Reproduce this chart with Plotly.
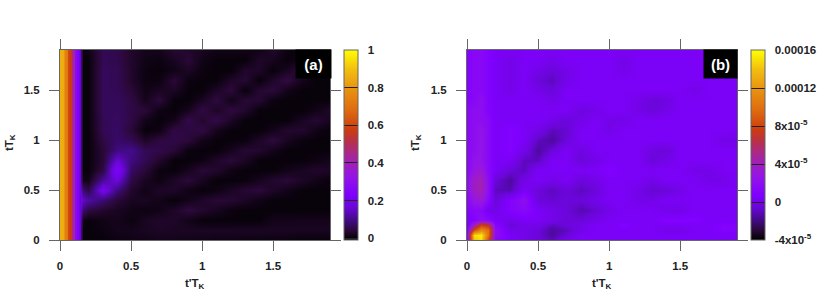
import plotly.graph_objects as go

W, H = 830, 291

y_a = [0, .1, .2, .3, .4, .5, .6, .7, .8, .9, 1.0, 1.1, 1.2, 1.3, 1.4, 1.5, 1.6, 1.7, 1.8, 1.9]
x_a = [0, .021, .035, .049, .056, .077, .085, .099, .106, .127, .141, .148, .162, .2, .3, .4, .5, .6, .7, .8, .9, 1.0, 1.1, 1.2, 1.3, 1.4, 1.5, 1.6, 1.7, 1.8, 1.9]
# one list per x column, each running from y = 0 to y = 1.9
columns_a = [
 [.86]*20,
 [.85]*20,
 [.74]*20,
 [.72]*20,
 [.60]*20,
 [.56]*20,
 [.45]*20,
 [.42]*20,
 [.28]*20,
 [.23]*20,
 [.15]*20,
 [.08,.08,.10,.14,.18,.14,.09,.08,.08,.08,.08,.08,.08,.08,.08,.08,.08,.08,.08,.08],
 [0,0,.01,.08,.15,.08,.01,0,0,0,0,0,0,0,0,0,0,0,0,0],
 [0,0,0,.05,.12,.05,.01,0,0,0,0,0,0,0,0,0,0,0,0,.01],
 [0,.005,.01,.03,.08,.20,.11,.05,.04,.04,.05,.06,.06,.065,.065,.065,.065,.065,.06,.06],
 [.005,.015,.015,.02,.04,.09,.17,.23,.16,.09,.075,.07,.07,.065,.065,.06,.06,.06,.055,.055],
 [.01,.015,.005,.01,.02,.03,.05,.07,.09,.10,.06,.04,.05,.05,.05,.04,.03,.03,.03,.03],
 [.01,.02,.02,.005,.02,.01,.02,.04,.06,.06,.025,0,.012,.04,.015,.01,.005,.005,.01,.015],
 [.013,.025,.028,.01,.013,.026,.006,.005,.031,.055,.047,.006,0,.007,.043,.021,.005,0,.005,.015],
 [.013,.022,.026,.026,0,.026,.026,0,0,.039,.051,.051,.012,0,0,.025,.04,.01,.02,.035],
 [.011,.022,.013,.045,.013,.009,.042,.016,0,.004,.043,.044,.055,.016,0,0,.005,.025,.04,.03],
 [.011,.022,0,.032,.026,0,.019,.039,.006,0,.012,.051,.032,.051,.02,0,0,.005,.01,.02],
 [.009,.022,0,.019,.039,.006,0,.032,.026,0,0,.016,.055,.024,.047,.024,0,0,0,.01],
 [.009,.022,0,.003,.036,.023,0,.009,.042,.016,0,0,.024,.047,.012,.043,.028,0,0,.01],
 [.006,.022,0,0,.023,.036,.003,0,.023,.036,.003,0,0,.031,.039,0,.036,.029,0,.01],
 [.006,.022,0,0,.009,.042,.016,0,0,.032,.026,0,0,0,.035,.035,0,.026,.026,.01],
 [.004,.022,.013,0,0,.026,.032,0,0,.013,.045,.013,0,0,.004,.043,.028,0,.018,.028],
 [.004,.022,.013,0,0,.012,.04,.012,0,0,.02,.032,0,0,0,.012,.051,.02,0,.005],
 [0,.02,.015,0,0,0,.025,.02,0,0,.003,.032,.02,0,0,0,.014,.05,.014,0],
 [0,.02,.015,0,0,0,.011,.03,.007,0,0,.01,.035,.01,0,0,0,0,0,0],
 [0,.02,.015,0,0,0,.002,.024,.015,0,0,0,.018,.028,0,0,0,0,0,0],
]
z_a = [list(r) for r in zip(*columns_a)]

x_b = [0, .05, .1, .15, .2, .3, .4, .5, .6, .7, .8, .9, 1.0, 1.1, 1.2, 1.3, 1.4, 1.5, 1.6, 1.7, 1.8, 1.9]
y_b = [0, .05, .1, .15, .2, .3, .4, .5, .6, .7, .8, .9, 1.0, 1.1, 1.2, 1.3, 1.4, 1.5, 1.6, 1.7, 1.8, 1.9]
z_b_1e5 = [
 [1,14,15,8,1.5,.5,0,-.5,-1,0,.5,.5,.5,.5,.5,.5,.5,.5,.5,.5,.5,.5],
 [2,15,15.5,10,2,.5,0,-.5,-1.5,-.5,.5,.5,.5,.5,.5,.5,.5,.5,.5,.5,.5,.5],
 [1,8.5,11.5,10,2,0,0,-.5,-1.5,-1,0,.5,.5,.5,.5,.5,0,0,.5,.5,1,1],
 [.5,4,8,7,1.5,-.5,0,0,-1,-.5,0,.5,.5,1,.5,.5,.5,.5,.5,.5,1,1],
 [.5,1,2,1.5,.5,0,.5,.5,0,-.5,-.5,0,.5,.5,.5,.5,1,1,1,.5,.5,.5],
 [1,1.5,1.5,0,0,1,1.5,.5,0,-.5,-1.2,-.7,0,.5,.5,.5,0,0,.5,.5,.5,.5],
 [1.5,2.8,3.2,1.5,-.5,1,2,-.5,-.7,-.5,-.5,0,.5,.5,0,0,.5,.5,.5,.5,.5,.5],
 [2,3.8,4.2,2,-1,-1.2,.5,-.5,-1,-.5,-1,-.5,.5,.5,0,-.7,-.5,0,.5,.5,.5,.5],
 [2,3.8,4.2,2,-.5,-1.5,0,.5,0,.5,-.5,0,.5,.5,.5,0,.5,.5,.5,0,0,.5],
 [1.5,2.8,3.2,1.5,.5,-.5,-1,.5,.5,.5,.5,.5,1,.5,.5,.5,.5,.5,0,0,.5,.5],
 [1.5,2.5,2.5,1.5,.5,.5,-1,-1,.5,.5,-.5,0,.5,.5,.5,-.5,0,.5,.5,.5,.5,.5],
 [1.5,2,2.5,1.5,.5,1,0,-1.5,-.5,.5,-.3,.5,.5,.5,.5,-.3,-.5,.5,.5,.5,.5,.5],
 [1.5,2,2.5,1.5,.5,1,.5,-1,-1.5,-.5,.5,.5,.5,.5,.5,.5,.5,.5,.5,.5,0,0],
 [1.5,2,2.5,1.5,.5,1,.5,0,-1,-.7,.5,.5,0,.5,.5,.5,.5,.5,.5,.5,.5,.5],
 [1.5,2,2,1.5,.5,.5,.5,.5,0,-.5,0,.5,0,0,.5,.5,.5,.5,.5,.5,.5,.5],
 [1.5,2,2,1,.5,.5,.5,.5,.5,.5,-.3,0,.5,.5,0,-.5,0,.5,.5,.5,.5,.5],
 [1,1.5,2,1,.5,.5,.5,.5,0,.5,.5,.5,.5,.5,0,-.5,-.3,.5,.5,.5,.5,.5],
 [1,1.5,1.5,1,.5,0,.5,0,-.5,.5,.5,.5,.5,.5,.5,.5,.5,.5,0,.5,.5,.5],
 [1,1.5,1.5,1,.5,0,.5,-.5,-1,0,.5,.5,.5,.5,.5,.5,.5,.5,.5,.5,.5,.5],
 [1,1.5,1.5,1,.5,0,.5,0,-.5,0,.5,.5,.5,0,.5,.5,.5,.5,.5,.5,.5,.5],
 [1,1.5,1.5,1,.5,0,.5,.5,0,.5,.5,.5,.5,0,.5,.5,.5,.5,.5,.5,.5,.5],
 [1,1.5,1.5,1,.5,.5,.5,.5,.5,.5,.5,.5,.5,.5,.5,.5,.5,.5,.5,.5,.5,.5],
]
z_b = [[v * 1e-5 for v in row] for row in z_b_1e5]

axis_ticks = [0, .5, 1, 1.5]
axis_labels = ["0", "0.5", "1", "1.5"]
cb_a_vals = [0, .2, .4, .6, .8, 1]
cb_a_text = ["0", "0.2", "0.4", "0.6", "0.8", "1"]
cb_b_vals = [-4e-5, 0, 4e-5, 8e-5, 12e-5, 16e-5]
cb_b_text = ["-4x10<sup>-5</sup>", "0", "4x10<sup>-5</sup>", "8x10<sup>-5</sup>", "0.00012", "0.00016"]

palette = [
 [0, "#000000"], [.05, "#2a0838"], [.1, "#3f0a80"], [.17, "#6a06d8"], [.24, "#8000ff"],
 [.33, "#9414e8"], [.40, "#a01ebc"], [.45, "#a82890"], [.52, "#b83048"], [.58, "#cc3c10"], [.68, "#de6a10"],
 [.8, "#e99510"], [.9, "#f2c010"], [1, "#ffff00"],
]

FONT = "Liberation Sans"
TXT = "#222222"
GREY = "#666666"
fnt = dict(family=FONT, size=11.5, color=TXT, weight=700)

def pad(labels):
    return ["\u00a0\u00a0" + t for t in labels]

def cb(x0, vals, text):
    return dict(
        thickness=14, thicknessmode="pixels", len=190 / H, lenmode="fraction",
        x=x0 / W, xanchor="left", xpad=0, y=(H - 240) / H, yanchor="bottom", ypad=0,
        outlinecolor=GREY, outlinewidth=1, ticks="inside", ticklen=14, tickwidth=1,
        tickcolor="#222222", tickvals=vals, ticktext=pad(text), tickfont=fnt,
    )

fig = go.Figure()
fig.add_trace(go.Heatmap(x=x_a, y=y_a, z=z_a, zsmooth="best", zmin=-.01, zmax=1, colorscale=palette,
                         colorbar=cb(343.5, cb_a_vals, cb_a_text), xaxis="x", yaxis="y"))
fig.add_trace(go.Heatmap(x=x_b, y=y_b, z=z_b, zsmooth="best", zmin=-4e-5, zmax=16e-5, colorscale=palette,
                         colorbar=cb(750.5, cb_b_vals, cb_b_text), xaxis="x2", yaxis="y2"))

def ax(domain, anchor, standoff):
    return dict(domain=domain, anchor=anchor, range=[0, 1.9], tickvals=axis_ticks, ticktext=axis_labels,
                ticks="outside", ticklen=10, tickwidth=1, tickcolor=GREY, showline=True, linecolor=GREY,
                linewidth=1, mirror="ticks", showgrid=False, zeroline=False, tickfont=fnt,
                ticklabelstandoff=standoff)

yd = [(H - 240) / H, (H - 50) / H]
layout = dict(
    width=W, height=H, margin=dict(l=0, r=0, t=0, b=0, autoexpand=False), paper_bgcolor="white", plot_bgcolor="white",
    xaxis=ax([60 / W, 330 / W], "y", 5),
    yaxis=ax(yd, "x", 7),
    xaxis2=ax([467 / W, 737 / W], "y2", 5),
    yaxis2=ax(yd, "x2", 7),
)
fig.update_layout(**layout)

def note(text, x, y, **kw):
    fig.add_annotation(text=text, x=x / W, y=1 - y / H, xref="paper", yref="paper", showarrow=False,
                       font=kw.pop("font", fnt), xanchor="center", yanchor="middle", **kw)

note("t'T<sub>K</sub>", 195, 284)
note("t'T<sub>K</sub>", 602, 284)
note("tT<sub>K</sub>", 10, 143, textangle=-90)
note("tT<sub>K</sub>", 416, 143, textangle=-90)
label_font = dict(family=FONT, size=15, color="white", weight=700)
note("(a)", 313.5, 64, bgcolor="black", width=33, height=26, font=label_font)
note("(b)", 720, 64, bgcolor="black", width=31, height=26, font=label_font)

fig.write_html("out.html", config=dict(displayModeBar=False), post_script="document.body.style.margin='0';")
